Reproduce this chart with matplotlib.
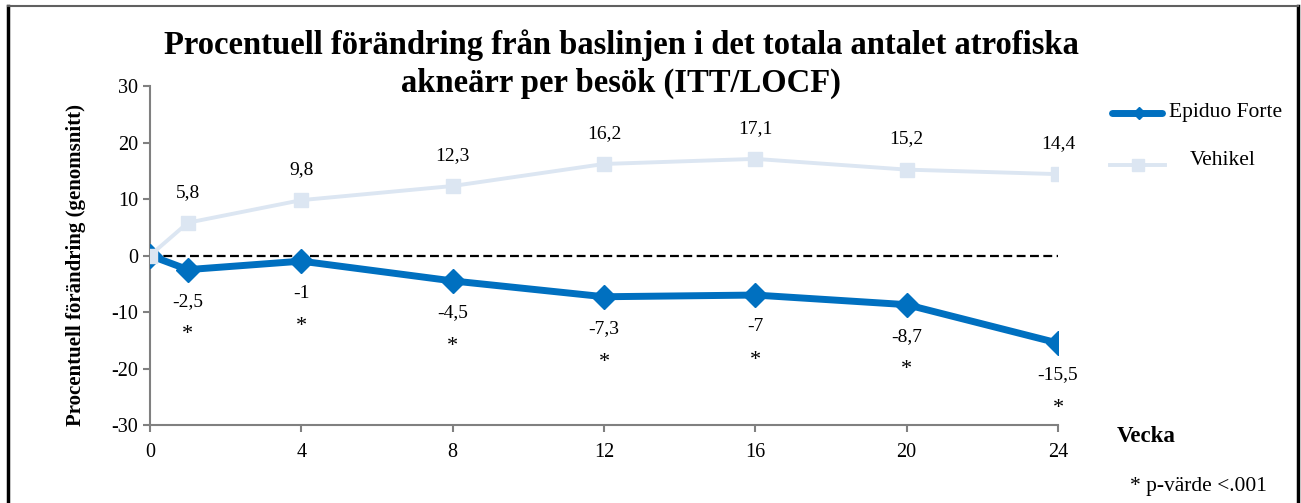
import matplotlib.pyplot as plt
from matplotlib.lines import Line2D

plt.rcParams['font.family'] = ['Liberation Serif', 'DejaVu Serif']

weeks = [0, 1, 4, 8, 12, 16, 20, 24]
epiduo = [0, -2.5, -1, -4.5, -7.3, -7, -8.7, -15.5]
vehikel = [0, 5.8, 9.8, 12.3, 16.2, 17.1, 15.2, 14.4]
epiduo_labels = ['-2,5', '-1', '-4,5', '-7,3', '-7', '-8,7', '-15,5']
vehikel_labels = ['5,8', '9,8', '12,3', '16,2', '17,1', '15,2', '14,4']
xticks = [0, 4, 8, 12, 16, 20, 24]
yticks = [-30, -20, -10, 0, 10, 20, 30]

blue = '#0070C0'
light = '#DCE6F2'
W, H = 1301, 503

fig = plt.figure(figsize=(13.01, 5.03), dpi=100)
ax = fig.add_axes([150 / W, 1 - 425 / H, 908 / W, 339 / H])

ax.plot([0, 24], [0, 0], color='black', linestyle=(0, (4, 2)), linewidth=1.6, zorder=2)
ax.plot(weeks, epiduo, color=blue, linewidth=5, marker='D', markersize=12, zorder=3)
ax.plot(weeks, vehikel, color=light, linewidth=2.8, marker='s', markersize=10, zorder=4)

for x, y, t in zip(weeks[1:], epiduo[1:], epiduo_labels):
    ax.annotate(t, (x, y), xytext=(0, -23), textcoords='offset points',
                ha='center', va='center', fontsize=14)
    ax.annotate('*', (x, y), xytext=(0, -47), textcoords='offset points',
                ha='center', va='center', fontsize=16)

for x, y, t in zip(weeks[1:], vehikel[1:], vehikel_labels):
    ax.annotate(t, (x, y), xytext=(0, 22), textcoords='offset points',
                ha='center', va='center', fontsize=14)

ax.set_xlim(0, 24)
ax.set_ylim(-30, 30)
ax.set_xticks(xticks)
ax.set_yticks(yticks)
ax.set_yticklabels([str(v) for v in yticks])
ax.tick_params(labelsize=14.5, color='#808080', length=5, width=1.5)
ax.tick_params(axis='x', pad=8)
for s in ['top', 'right']:
    ax.spines[s].set_visible(False)
for s in ['left', 'bottom']:
    ax.spines[s].set_color('#808080')
    ax.spines[s].set_linewidth(1.5)
ax.set_ylabel('Procentuell förändring (genomsnitt)', fontsize=15, fontweight='bold')
ax.yaxis.set_label_coords(-0.071, 0.472)

fig.text(621 / W, 1 - 64 / H,
         'Procentuell förändring från baslinjen i det totala antalet atrofiska\nakneärr per besök (ITT/LOCF)',
         ha='center', va='center', fontsize=23.5, fontweight='bold', linespacing=1.3)

# legend drawn by hand
fig.add_artist(Line2D([1112 / W, 1162 / W], [1 - 113 / H] * 2, color=blue, linewidth=5,
                      solid_capstyle='round'))
fig.add_artist(Line2D([1139 / W], [1 - 113 / H], color=blue, marker='D', markersize=6))
fig.text(1169 / W, 1 - 113 / H, 'Epiduo Forte', fontsize=15.5, va='center')
fig.add_artist(Line2D([1110 / W, 1165 / W], [1 - 165 / H] * 2, color=light, linewidth=2.8))
fig.add_artist(Line2D([1138 / W], [1 - 165 / H], color=light, marker='s', markersize=8))
fig.text(1190 / W, 1 - 160 / H, 'Vehikel', fontsize=15.5, va='center')

fig.text(1117 / W, 1 - 437 / H, 'Vecka', fontsize=16.5, fontweight='bold', va='center')
fig.text(1130 / W, 1 - 487 / H, '* p-värde <.001', fontsize=15.5, va='center')

fig.add_artist(Line2D([8 / W, 8 / W], [0, 1 - 6 / H], color='black', linewidth=2.5))
fig.add_artist(Line2D([1298 / W, 1298 / W], [0, 1 - 6 / H], color='black', linewidth=2.5))
fig.add_artist(Line2D([8 / W, 1298 / W], [1 - 6 / H, 1 - 6 / H], color='#606060', linewidth=1.5))

fig.savefig('out.png', dpi=100)
